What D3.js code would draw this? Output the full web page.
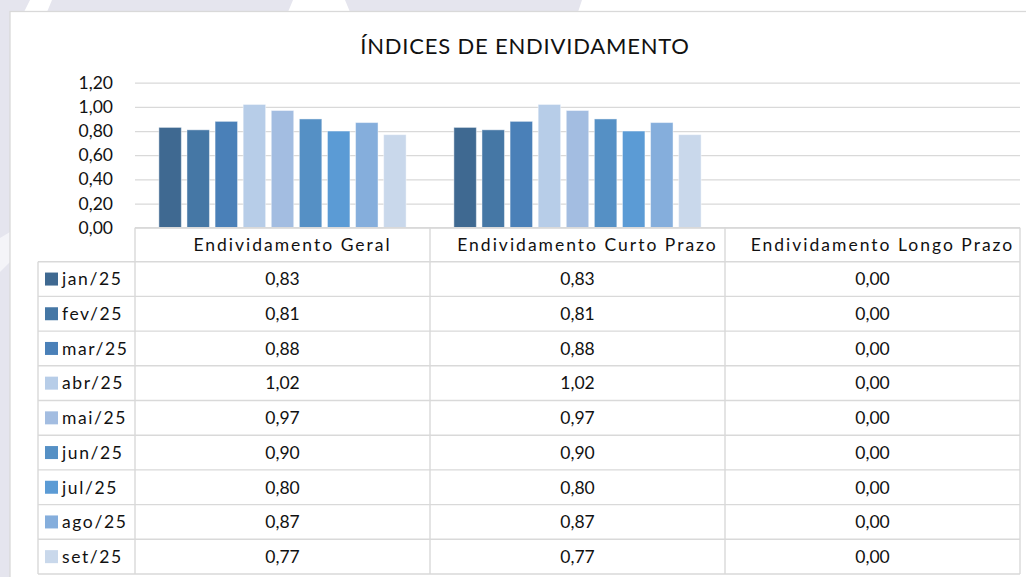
<!DOCTYPE html>
<meta charset="utf-8">
<style>
body { margin: 0; background: #fff; }
text { font-family: Lato, "Open Sans", sans-serif; fill: #111; }
.grid line { stroke: #d9d9d9; stroke-width: 1.3px; }
.grid path { display: none; }
.tbl line { stroke: #d9d9d9; stroke-width: 1.4px; }
</style>
<svg width="1026" height="577"></svg>
<script src="https://cdn.jsdelivr.net/npm/d3@7"></script>
<script>

// data
var categories = ["Endividamento Geral", "Endividamento Curto Prazo", "Endividamento Longo Prazo"];
var months = ["jan/25", "fev/25", "mar/25", "abr/25", "mai/25", "jun/25", "jul/25", "ago/25", "set/25"];
var geral = [0.83, 0.81, 0.88, 1.02, 0.97, 0.90, 0.80, 0.87, 0.77];
var curto = [0.83, 0.81, 0.88, 1.02, 0.97, 0.90, 0.80, 0.87, 0.77];
var longo = [0.00, 0.00, 0.00, 0.00, 0.00, 0.00, 0.00, 0.00, 0.00];
var tickValues = [0, 0.2, 0.4, 0.6, 0.8, 1.0, 1.2];
var colors = ["#3f6991", "#4577a5", "#4a80b8", "#b7cde8", "#a3bde1", "#5590c5", "#5b9bd5", "#85aedc", "#c9d8eb"];

var series = [geral, curto, longo];

var svg = d3.select("svg");
var fmt = function(v) { return v.toFixed(2).replace(".", ","); };

// page background (watermark bits round the chart)
var lav = "#e5e5ee";
svg.append("rect").attr("width", 1026).attr("height", 577).attr("fill", "#fff");
svg.append("rect").attr("x", 0).attr("y", 0).attr("width", 10).attr("height", 577).attr("fill", lav);
var shapes = [
  [[0,0],[30,0],[24,12],[0,12]],
  [[52,0],[293,0],[288,12],[47,12]],
  [[345,0],[582,0],[578,12],[350,12]],
];
svg.selectAll(".wm").data(shapes).enter().append("path")
  .attr("class", "wm")
  .attr("d", function(d) { return "M" + d.join("L") + "Z"; })
  .attr("fill", lav);
svg.append("path").attr("d", "M0,238L10,232L10,262L0,272Z").attr("fill", "#f4f4f8");

// chart box
svg.append("rect")
  .attr("x", 10).attr("y", 11.5).attr("width", 1030).attr("height", 580)
  .attr("fill", "#fff").attr("stroke", "#d9d9d9").attr("stroke-width", 1.3);

svg.append("text")
  .attr("x", 525).attr("y", 54)
  .attr("text-anchor", "middle")
  .attr("font-size", "22px")
  .attr("letter-spacing", "0.8px")
  .text("ÍNDICES DE ENDIVIDAMENTO");

var plotLeft = 135, plotRight = 1020, plotTop = 82.7, plotBottom = 227.7;

var x0 = d3.scaleBand().domain(categories).range([plotLeft, plotRight]);
var x1 = d3.scaleBand().domain(months).range([0, x0.bandwidth()])
  .paddingInner(0.2).paddingOuter(0.85);
var y = d3.scaleLinear().domain([0, 1.2]).range([plotBottom, plotTop]);

// gridlines + tick labels
var g = svg.append("g").attr("class", "grid")
  .attr("transform", "translate(" + plotLeft + ",0)")
  .call(d3.axisLeft(y).tickValues(tickValues).tickSize(-(plotRight - plotLeft)).tickPadding(22).tickFormat(fmt));
g.selectAll("text").attr("font-size", "17.5px").attr("fill", "#111").style("font-family", "Lato, sans-serif");

// bars
var groups = svg.selectAll(".grp").data(categories).enter().append("g")
  .attr("class", "grp")
  .attr("transform", function(d) { return "translate(" + x0(d) + ",0)"; });

groups.selectAll("rect")
  .data(function(d, ci) { return months.map(function(m, i) { return {m: m, i: i, v: series[ci][i]}; }); })
  .enter().append("rect")
  .attr("x", function(d) { return x1(d.m); })
  .attr("width", x1.bandwidth())
  .attr("y", function(d) { return y(d.v); })
  .attr("height", function(d) { return plotBottom - y(d.v); })
  .attr("fill", function(d) { return colors[d.i]; })
  .attr("stroke", "#fff").attr("stroke-opacity", 0.45).attr("stroke-width", 1);

// data table
var rowTop = 261.7, rowH = 34.7, legLeft = 38;
var rowY = d3.scaleBand().domain(months).range([rowTop, rowTop + rowH * months.length]);
var tbl = svg.append("g").attr("class", "tbl");

tbl.append("line").attr("x1", plotLeft).attr("x2", plotRight).attr("y1", plotBottom).attr("y2", plotBottom);
months.forEach(function(m) {
  tbl.append("line").attr("x1", legLeft).attr("x2", plotRight)
    .attr("y1", rowY(m)).attr("y2", rowY(m));
});
tbl.append("line").attr("x1", legLeft).attr("x2", plotRight)
  .attr("y1", rowY.range()[1]).attr("y2", rowY.range()[1]);
tbl.append("line").attr("x1", legLeft).attr("x2", legLeft)
  .attr("y1", rowTop).attr("y2", rowY.range()[1]);
categories.concat(["end"]).forEach(function(c) {
  var xx = c === "end" ? plotRight : x0(c);
  tbl.append("line").attr("x1", xx).attr("x2", xx)
    .attr("y1", plotBottom).attr("y2", rowY.range()[1]);
});

// header
svg.selectAll(".hdr").data(categories).enter().append("text")
  .attr("class", "hdr")
  .attr("x", function(d) { return x0(d) + x0.bandwidth() / 2 + 10; })
  .attr("y", (plotBottom + rowTop) / 2)
  .attr("dy", "0.36em")
  .attr("text-anchor", "middle")
  .attr("font-size", "17.5px")
  .attr("letter-spacing", "2px")
  .text(function(d) { return d; });

// legend keys + labels
var leg = svg.selectAll(".leg").data(months).enter().append("g")
  .attr("class", "leg")
  .attr("transform", function(d) { return "translate(0," + (rowY(d) + rowH / 2) + ")"; });
leg.append("rect")
  .attr("x", 45).attr("y", -6.5).attr("width", 13).attr("height", 13)
  .attr("fill", function(d, i) { return colors[i]; });
leg.append("text")
  .attr("x", 62).attr("dy", "0.36em")
  .attr("font-size", "17.5px")
  .attr("letter-spacing", "1.6px")
  .text(function(d) { return d; });

// values
categories.forEach(function(c, ci) {
  svg.selectAll(".val" + ci).data(series[ci]).enter().append("text")
    .attr("x", x0(c) + x0.bandwidth() / 2)
    .attr("y", function(d, i) { return rowY(months[i]) + rowH / 2; })
    .attr("dy", "0.36em")
    .attr("text-anchor", "middle")
    .attr("font-size", "17.5px")
    .text(function(d) { return fmt(d); });
});

</script>
